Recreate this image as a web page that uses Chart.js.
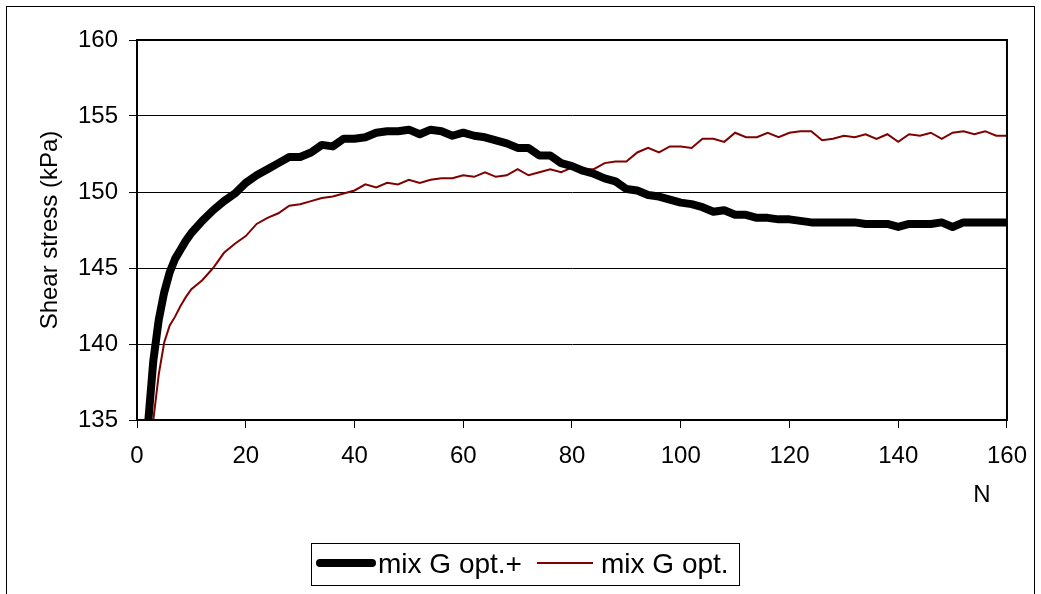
<!DOCTYPE html>
<html>
<head>
<meta charset="utf-8">
<title>Shear stress vs N</title>
<script src="https://cdn.jsdelivr.net/npm/chart.js@4.4.1/dist/chart.umd.min.js"></script>
<style>
  html, body { margin: 0; padding: 0; background: #fff; }
  #wrap { position: relative; width: 1041px; height: 594px; }
</style>
</head>
<body>
<div id="wrap"><canvas id="shearChart" width="1041" height="594"></canvas></div>
<script>
// number of cycles
const cycles = [1, 2, 3, 4, 5, 6, 7, 8, 9, 10,
  12, 14, 16, 18, 20, 22, 24, 26, 28, 30,
  32, 34, 36, 38, 40, 42, 44, 46, 48, 50,
  52, 54, 56, 58, 60, 62, 64, 66, 68, 70,
  72, 74, 76, 78, 80, 82, 84, 86, 88, 90,
  92, 94, 96, 98, 100, 102, 104, 106, 108, 110,
  112, 114, 116, 118, 120, 122, 124, 126, 128, 130,
  132, 134, 136, 138, 140, 142, 144, 146, 148, 150,
  152, 154, 156, 158, 160];

// shear stress (kPa), mix G opt.+
const stressPlus = [127.0, 134.6, 138.9, 141.6, 143.4, 144.7, 145.6, 146.2, 146.8, 147.3,
  148.1, 148.8, 149.4, 149.9, 150.6, 151.1, 151.5, 151.9, 152.3, 152.3,
  152.6, 153.1, 153.0, 153.5, 153.5, 153.6, 153.9, 154.0, 154.0, 154.1,
  153.8, 154.1, 154.0, 153.7, 153.9, 153.7, 153.6, 153.4, 153.2, 152.9,
  152.9, 152.4, 152.4, 151.9, 151.7, 151.4, 151.2, 150.9, 150.7, 150.2,
  150.1, 149.8, 149.7, 149.5, 149.3, 149.2, 149.0, 148.7, 148.8, 148.5,
  148.5, 148.3, 148.3, 148.2, 148.2, 148.1, 148.0, 148.0, 148.0, 148.0,
  148.0, 147.9, 147.9, 147.9, 147.7, 147.9, 147.9, 147.9, 148.0, 147.7,
  148.0, 148.0, 148.0, 148.0, 148.0];

// shear stress (kPa), mix G opt.
const stressOpt = [127.5, 131.0, 135.0, 138.0, 140.1, 141.2, 141.8, 142.5, 143.1, 143.6,
  144.2, 145.0, 146.0, 146.6, 147.1, 147.9, 148.3, 148.6, 149.1, 149.2,
  149.4, 149.6, 149.7, 149.9, 150.1, 150.5, 150.3, 150.6, 150.5, 150.8,
  150.6, 150.8, 150.9, 150.9, 151.1, 151.0, 151.3, 151.0, 151.1, 151.5,
  151.1, 151.3, 151.5, 151.3, 151.6, 151.5, 151.5, 151.9, 152.0, 152.0,
  152.6, 152.9, 152.6, 153.0, 153.0, 152.9, 153.5, 153.5, 153.3, 153.9,
  153.6, 153.6, 153.9, 153.6, 153.9, 154.0, 154.0, 153.4, 153.5, 153.7,
  153.6, 153.8, 153.5, 153.8, 153.3, 153.8, 153.7, 153.9, 153.5, 153.9,
  154.0, 153.8, 154.0, 153.7, 153.7];

const seriesNames = ['mix G opt.+', 'mix G opt.'];

const FONT = "'Liberation Sans', Arial, sans-serif";

function toPoints(values) {
    return cycles.map((n, i) => ({ x: n, y: values[i] }));
}

// frame around the plot, outer border, "N" label and the boxed legend
const decorations = {
    id: 'decorations',
    afterDraw(chart) {
        const c = chart.ctx;
        const a = chart.chartArea;
        c.save();
        c.strokeStyle = '#000';
        c.lineWidth = 2;
        c.strokeRect(a.left, a.top, a.right - a.left, a.bottom - a.top);

        c.lineWidth = 1;
        c.strokeRect(6.5, 6.5, 1028, 620);

        c.fillStyle = '#000';
        c.font = '24px ' + FONT;
        c.textAlign = 'center';
        c.textBaseline = 'middle';
        c.fillText('N', 982, 495);

        // legend
        c.strokeRect(311.5, 543.5, 428, 42);
        const ds = chart.data.datasets;
        const items = [
            { x0: 320, x1: 372, tx: 378 },
            { x0: 537, x1: 593, tx: 601 }
        ];
        c.font = '28px ' + FONT;
        c.textAlign = 'left';
        c.textBaseline = 'alphabetic';
        items.forEach((it, i) => {
            c.beginPath();
            c.strokeStyle = ds[i].borderColor;
            c.lineWidth = i === 0 ? 8 : 2;
            c.lineCap = i === 0 ? 'round' : 'butt';
            c.moveTo(it.x0, 563);
            c.lineTo(it.x1, 563);
            c.stroke();
            c.fillText(ds[i].label, it.tx, 573);
        });
        c.restore();
    }
};

const ctx = document.getElementById('shearChart').getContext('2d');
new Chart(ctx, {
    type: 'line',
    data: {
        datasets: [{
            label: seriesNames[0],
            data: toPoints(stressPlus),
            borderColor: '#000000',
            borderWidth: 8,
            pointRadius: 0,
            tension: 0,
            clip: 0,
            borderJoinStyle: 'round'
        }, {
            label: seriesNames[1],
            data: toPoints(stressOpt),
            borderColor: '#800000',
            borderWidth: 2,
            pointRadius: 0,
            tension: 0,
            clip: 0
        }]
    },
    options: {
        responsive: false,
        animation: false,
        layout: { padding: { left: 0, top: 40, right: 34, bottom: 0 } },
        plugins: {
            legend: { display: false },
            tooltip: { enabled: false }
        },
        scales: {
            x: {
                type: 'linear',
                min: 0,
                max: 160,
                afterFit(scale) { scale.height = 174; },
                ticks: {
                    stepSize: 20,
                    color: '#000',
                    padding: 14,
                    maxRotation: 0,
                    font: { family: FONT, size: 24 }
                },
                grid: {
                    drawOnChartArea: false,
                    drawTicks: true,
                    tickLength: 8,
                    color: '#000',
                    lineWidth: 1
                },
                border: { color: '#000', width: 2 }
            },
            y: {
                min: 135,
                max: 160,
                afterFit(scale) { scale.width = 137; },
                ticks: {
                    stepSize: 5,
                    color: '#000',
                    padding: 11,
                    font: { family: FONT, size: 24 }
                },
                grid: {
                    color: '#000',
                    lineWidth: 1,
                    tickLength: 8
                },
                border: { color: '#000', width: 2 },
                title: {
                    display: true,
                    text: 'Shear stress (kPa)',
                    color: '#000',
                    font: { family: FONT, size: 24 },
                    padding: { top: 36, bottom: 0 }
                }
            }
        }
    },
    plugins: [decorations]
});
</script>
</body>
</html>
